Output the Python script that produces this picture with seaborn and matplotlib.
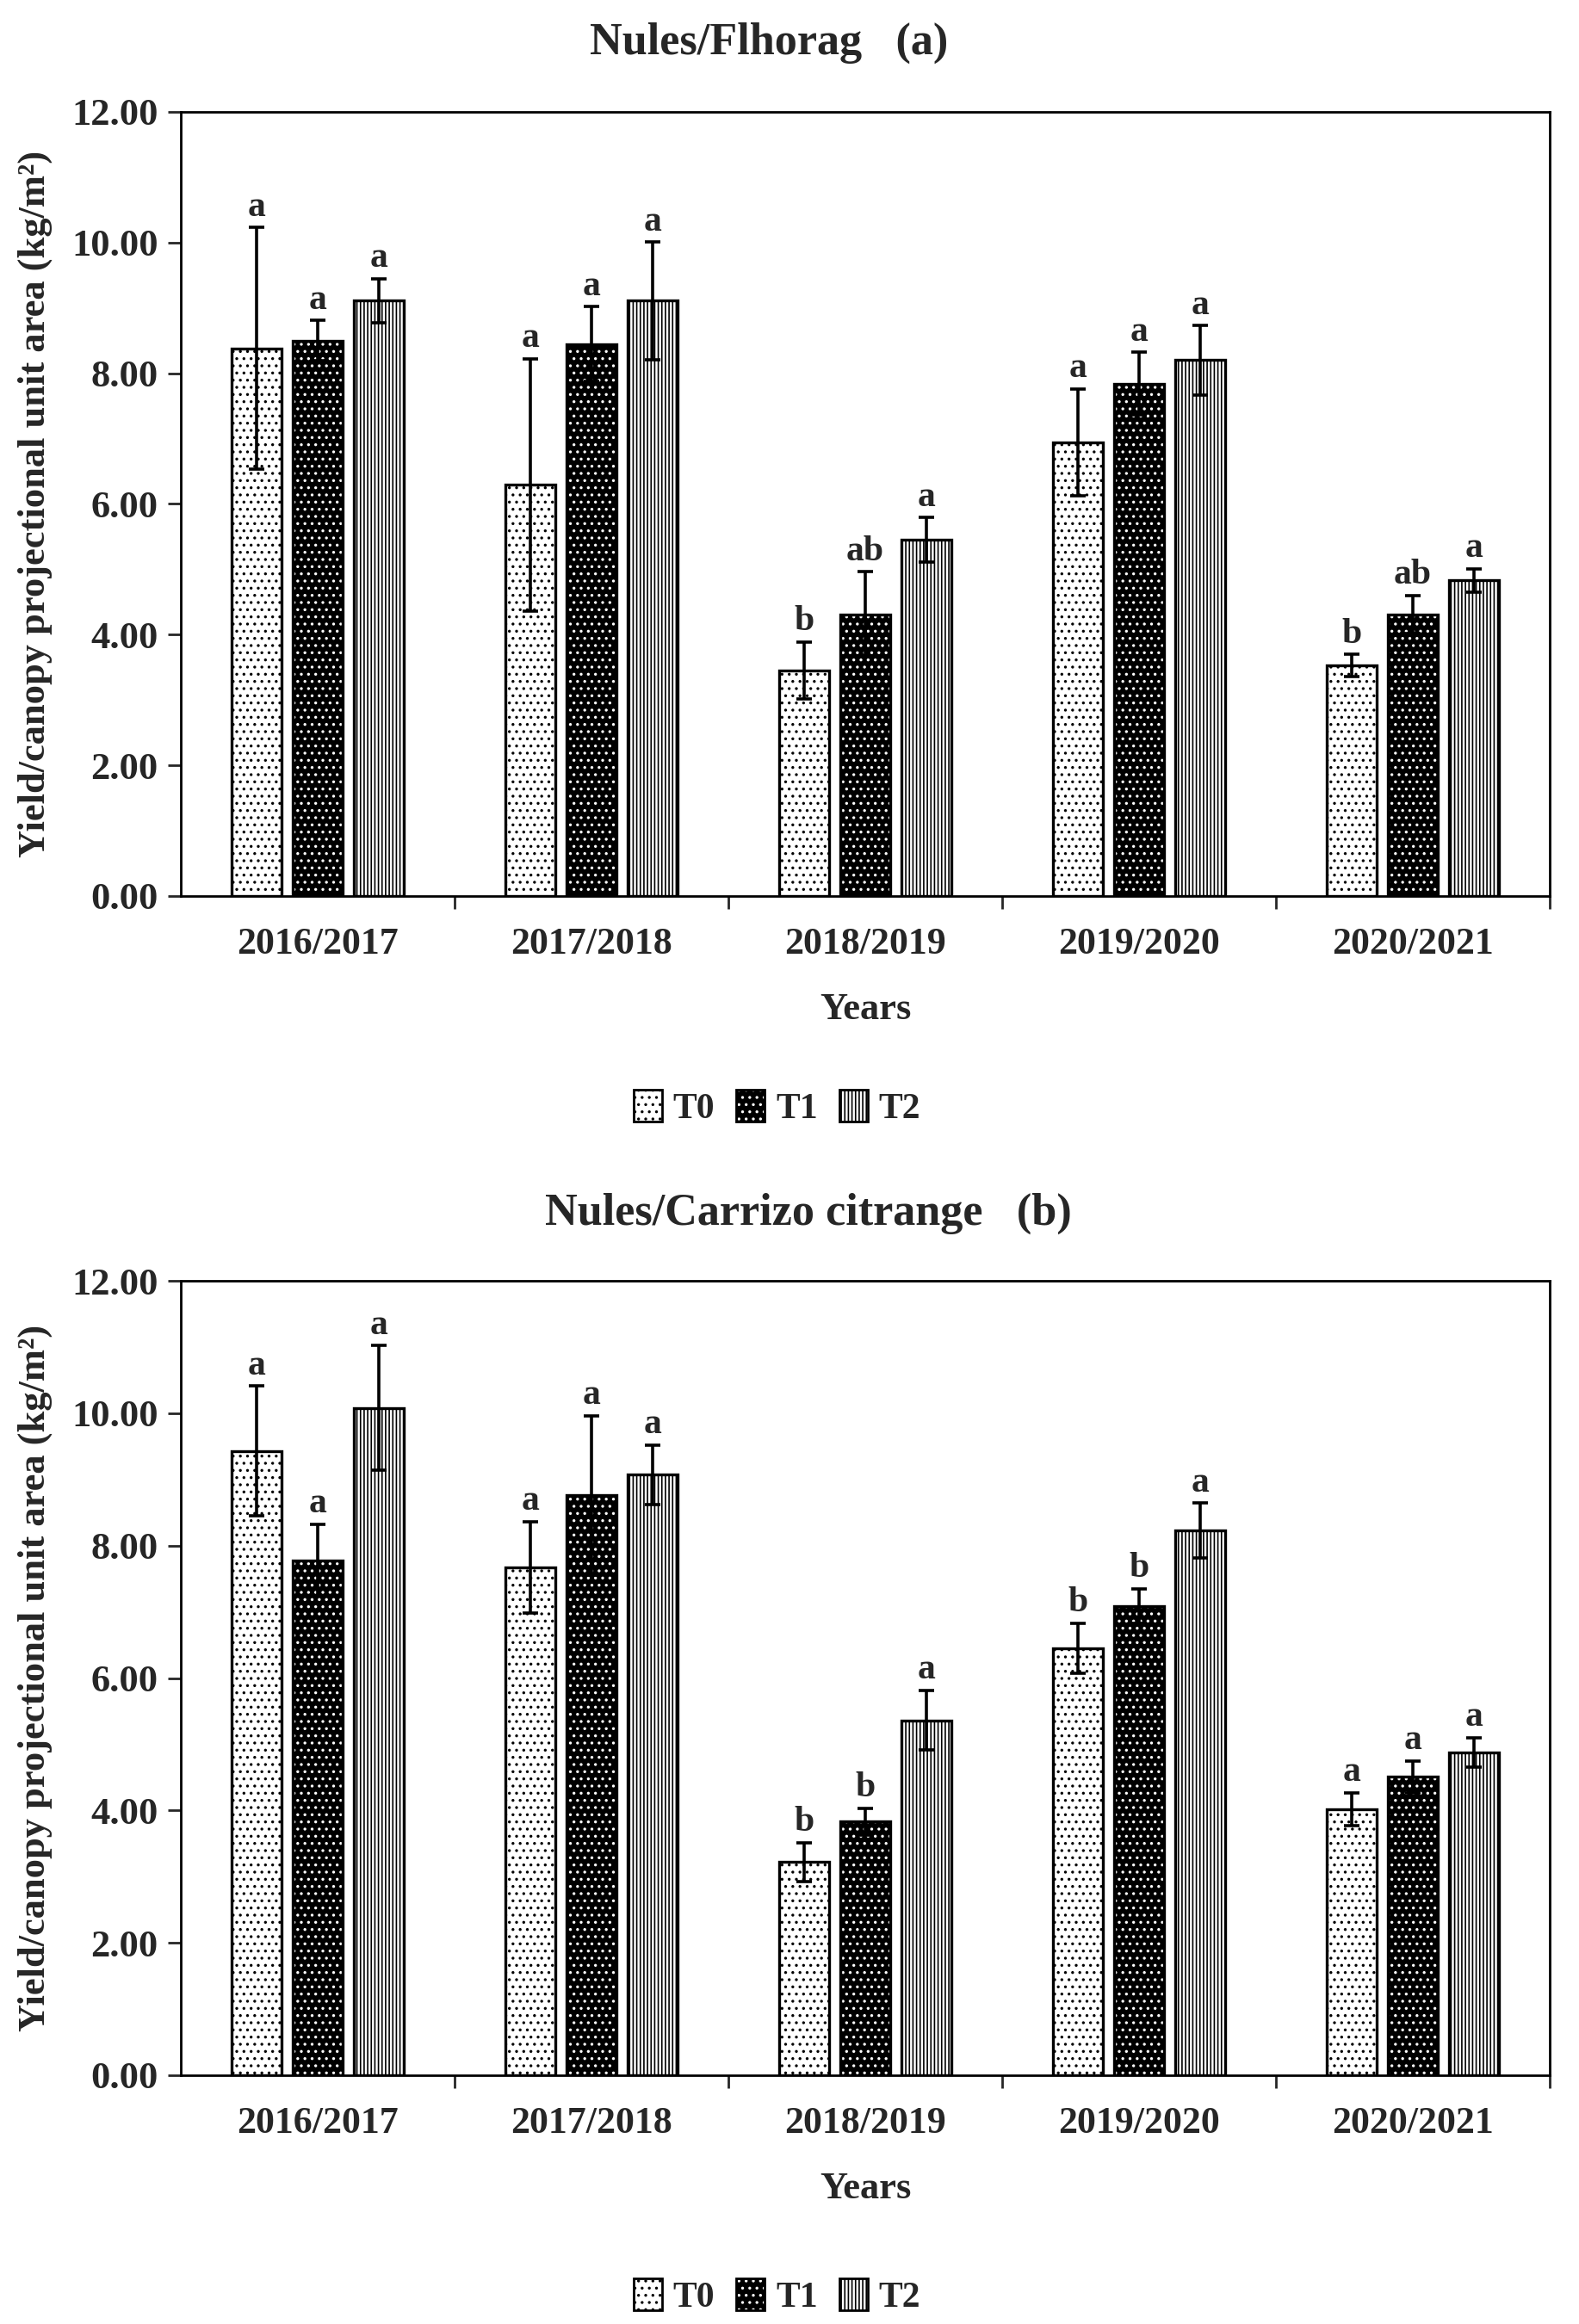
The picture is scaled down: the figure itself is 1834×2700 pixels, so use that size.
import matplotlib
matplotlib.use("Agg")
import matplotlib.pyplot as plt
import pandas as pd
import seaborn as sns
from matplotlib.patches import Patch, Rectangle

# Values
years = ["2016/2017", "2017/2018", "2018/2019", "2019/2020", "2020/2021"]
treatments = ["T0", "T1", "T2"]

# (a) Nules/Flhorag
a_T0 = [8.38, 6.29, 3.45, 6.94, 3.53]
a_T1 = [8.50, 8.45, 4.31, 7.84, 4.31]
a_T2 = [9.11, 9.11, 5.45, 8.20, 4.83]
a_T0_err = [1.85, 1.93, 0.44, 0.82, 0.17]
a_T1_err = [0.31, 0.57, 0.65, 0.48, 0.29]
a_T2_err = [0.34, 0.90, 0.34, 0.53, 0.18]
a_T0_let = ["a", "a", "b", "a", "b"]
a_T1_let = ["a", "a", "ab", "a", "ab"]
a_T2_let = ["a", "a", "a", "a", "a"]

# (b) Nules/Carrizo citrange
b_T0 = [9.43, 7.67, 3.22, 6.45, 4.02]
b_T1 = [7.78, 8.76, 3.83, 7.09, 4.51]
b_T2 = [10.08, 9.07, 5.36, 8.23, 4.88]
b_T0_err = [0.98, 0.69, 0.29, 0.38, 0.25]
b_T1_err = [0.54, 1.20, 0.20, 0.26, 0.24]
b_T2_err = [0.94, 0.45, 0.45, 0.41, 0.22]
b_T0_let = ["a", "a", "b", "b", "a"]
b_T1_let = ["a", "a", "b", "b", "a"]
b_T2_let = ["a", "a", "a", "a", "a"]

panels = [
    ("Nules/Flhorag   (a)", [a_T0, a_T1, a_T2], [a_T0_err, a_T1_err, a_T2_err],
     [a_T0_let, a_T1_let, a_T2_let]),
    ("Nules/Carrizo citrange   (b)", [b_T0, b_T1, b_T2], [b_T0_err, b_T1_err, b_T2_err],
     [b_T0_let, b_T1_let, b_T2_let]),
]

sns.set_style("ticks")
plt.rcParams["font.family"] = ["Liberation Serif", "DejaVu Serif"]
plt.rcParams["font.weight"] = "bold"
plt.rcParams["hatch.linewidth"] = 0.6

hatches = {"T0": "....", "T1": "....", "T2": "||||||||"}

fig = plt.figure(figsize=(9.17, 13.5), dpi=200)
W, H = 1834, 2700

# axes boxes in pixels: left, top, right, bottom
boxes = [(210, 130, 1800, 1041), (210, 1488, 1800, 2411)]
title_pos = [(0.487, 50), (0.512, 1410)]
legend_y = [1287, 2668]

for (title, vals, errs, lets), (l, t, r, b), (tx, ty), ly in zip(panels, boxes, title_pos, legend_y):
    ax = fig.add_axes([l / W, 1 - b / H, (r - l) / W, (b - t) / H])

    rows = []
    for tr, v in zip(treatments, vals):
        for yr, val in zip(years, v):
            rows.append({"year": yr, "treatment": tr, "value": val})
    df = pd.DataFrame(rows)

    sns.barplot(data=df, x="year", y="value", hue="treatment", order=years,
                hue_order=treatments, palette=["white", "black", "white"],
                width=0.67, gap=0.19, errorbar=None, legend=False, ax=ax,
                edgecolor="black", linewidth=1.2)

    for tr, cont, err, let in zip(treatments, ax.containers, errs, lets):
        xs, tops = [], []
        for p in cont.patches:
            if tr == "T1":
                # black bar with white dots, black outline drawn on top
                p.set_edgecolor("white")
                p.set_linewidth(0)
                p.set_hatch(hatches[tr])
                ax.add_patch(Rectangle((p.get_x(), p.get_y()), p.get_width(), p.get_height(),
                                       fill=False, edgecolor="black", linewidth=1.2,
                                       zorder=p.get_zorder() + 0.1))
            else:
                p.set_hatch(hatches[tr])
            xs.append(p.get_x() + p.get_width() / 2)
            tops.append(p.get_height())
        ax.errorbar(xs, tops, yerr=err, fmt="none", ecolor="black", elinewidth=1.3,
                    capsize=3.2, capthick=1.3, zorder=5)
        for x, y, e, s in zip(xs, tops, err, let):
            ax.text(x, y + e + 0.06, s, ha="center", va="bottom", fontsize=15,
                    fontweight="bold", zorder=6)

    ax.set_xlim(-0.5, 4.5)
    ax.set_ylim(0, 12)
    ax.set_yticks(range(0, 13, 2))
    ax.set_yticklabels([f"{v:.2f}" for v in range(0, 13, 2)], fontsize=16, fontweight="bold")
    ax.set_xticks(range(len(years)))
    ax.set_xticklabels(years, fontsize=15.8, fontweight="bold")
    ax.set_xticks([0.5, 1.5, 2.5, 3.5, 4.5], minor=True)
    ax.tick_params(axis="x", which="major", length=0, pad=13)
    ax.tick_params(axis="x", which="minor", length=5.5, width=1.0, direction="out")
    ax.tick_params(axis="y", length=5.5, width=1.0, direction="out", pad=4)
    for sp in ax.spines.values():
        sp.set_linewidth(1.0)
        sp.set_color("black")
    ax.set_xlabel("Years", fontsize=16, fontweight="bold", labelpad=13)
    ax.set_ylabel("Yield/canopy projectional unit area (kg/m²)", fontsize=16,
                  fontweight="bold", labelpad=8)

    fig.text(tx, 1 - ty / H, title, ha="center", va="center", fontsize=18.8,
             fontweight="bold")

    handles = []
    for tr in treatments:
        if tr == "T1":
            hp = Patch(facecolor="black", edgecolor="white", hatch=hatches[tr], linewidth=0)
            op = Patch(fill=False, edgecolor="black", linewidth=1.0)
            handles.append((hp, op))
        else:
            handles.append(Patch(facecolor="white", edgecolor="black", hatch=hatches[tr],
                                 linewidth=1.0))
    fig.legend(handles, treatments, loc="center", bbox_to_anchor=(0.492, 1 - ly / H),
               ncol=3, frameon=False, handlelength=0.8, handleheight=1.0,
               handletextpad=0.3, columnspacing=0.6, borderpad=0.2,
               prop={"family": ["Liberation Serif"], "weight": "bold", "size": 15})

fig.savefig("out.png", dpi=200)
